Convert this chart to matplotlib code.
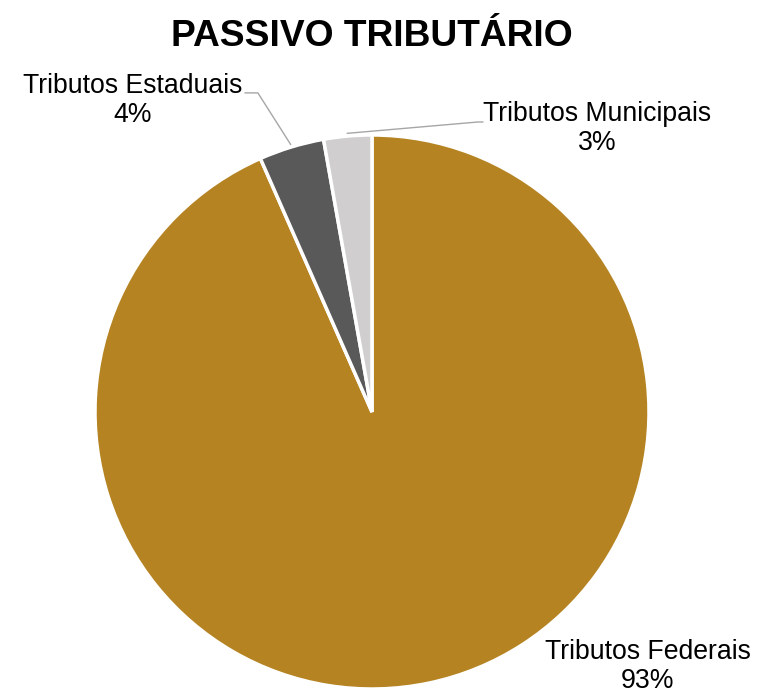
import numpy as np
import matplotlib.pyplot as plt

plt.rcParams['font.family'] = ['Liberation Sans', 'DejaVu Sans']

# data
categorias = ['Tributos Federais', 'Tributos Estaduais', 'Tributos Municipais']
valores = [93.4, 3.8, 2.8]
rotulos_pct = ['93%', '4%', '3%']
cores = ['#B58322', '#595959', '#D0CECE']

fig = plt.figure(figsize=(7.57, 6.94), dpi=100)
W, H = 757, 694
cx, cy, r = 372, 412, 277
ax = fig.add_axes([(cx - r) / W, (H - cy - r) / H, 2 * r / W, 2 * r / H])

wedges, _ = ax.pie(valores, colors=cores, startangle=90, counterclock=False,
                   wedgeprops=dict(edgecolor='white', linewidth=2.5))
ax.set_xlim(-1, 1)
ax.set_ylim(-1, 1)
ax.set_aspect('equal')
ax.axis('off')

def mid(w, rr=1.01):
    a = np.deg2rad((w.theta1 + w.theta2) / 2)
    return rr * np.cos(a), rr * np.sin(a)

fs = 19.2
ls = 1.15
# Federais - no leader line
ax.text(0.996, -0.917, f'{categorias[0]}\n{rotulos_pct[0]}', ha='center', va='center',
        fontsize=fs, linespacing=ls)

# Estaduais
x0, y0 = mid(wedges[1])
ax.plot([x0, -0.412, -0.458], [y0, 1.152, 1.152], color='#A6A6A6', lw=1, clip_on=False)
ax.text(-0.863, 1.124, f'{categorias[1]}\n{rotulos_pct[1]}', ha='center', va='center',
        fontsize=fs, linespacing=ls)

# Municipais
x0, y0 = mid(wedges[2])
ax.plot([x0, 0.383, 0.40], [y0, 1.047, 1.047], color='#A6A6A6', lw=1, clip_on=False)
ax.text(0.812, 1.022, f'{categorias[2]}\n{rotulos_pct[2]}', ha='center', va='center',
        fontsize=fs, linespacing=ls)

fig.text(cx / W, 1 - 37 / H, 'PASSIVO TRIBUTÁRIO', ha='center', va='center',
         fontsize=26.7, fontweight='bold')

fig.savefig('out.png', dpi=100, facecolor='white')
